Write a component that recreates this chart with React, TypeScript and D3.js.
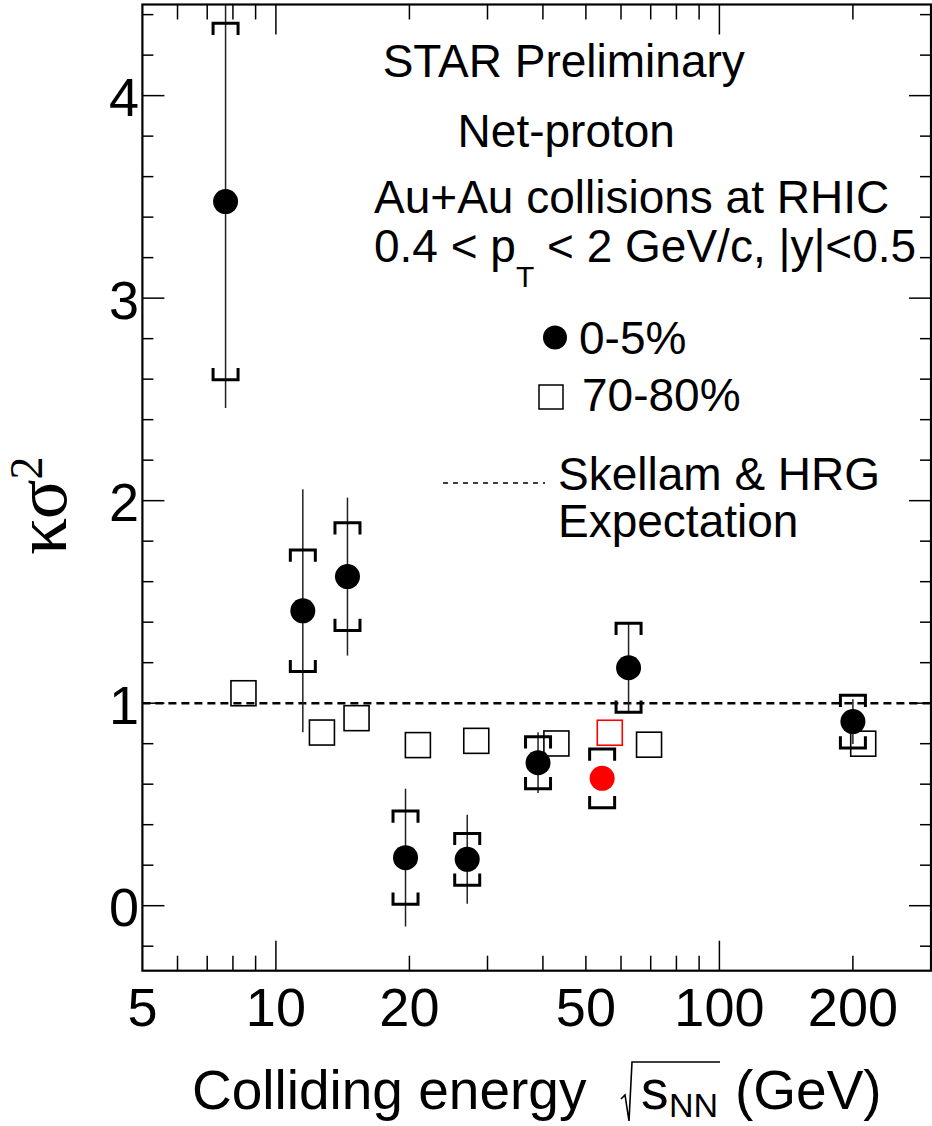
import React from "react";
import * as d3 from "d3";

// 0-5% central collisions (net-proton kappa*sigma^2)
const energies = [7.7, 11.5, 14.5, 19.6, 27, 39, 54.4, 62.4, 200];
const central = [3.477, 1.456, 1.625, 0.237, 0.229, 0.706, 0.629, 1.175, 0.909];
const statErr = [1.02, 0.6, 0.39, 0.34, 0.22, 0.15, 0.0, 0.225, 0.11];
const sysErr = [0.88, 0.3, 0.266, 0.23, 0.128, 0.128, 0.145, 0.22, 0.13];
const highlightedEnergy = 54.4;

// 70-80% peripheral collisions (plotted slightly offset in energy)
const peripheralX = [8.45, 12.7, 15.2, 20.9, 28.3, 42.9, 56.6, 69.4, 211];
const peripheralY = [1.049, 0.855, 0.926, 0.793, 0.814, 0.801, 0.854, 0.795, 0.8];
const highlightedPeripheral = 56.6;

const xTickLabels = [5, 10, 20, 50, 100, 200];
const yTickLabels = [0, 1, 2, 3, 4];
const expectation = 1;

const FONT = "'Liberation Sans', Arial, Helvetica, sans-serif";

export default function App() {
  const L = 142.4, R = 931, T = 4.5, B = 970.7;
  const x = d3.scaleLog().domain([5, 300]).range([L, R]);
  const y = d3.scaleLinear().domain([-0.321, 4.45]).range([B, T]);

  const xTicks = x.ticks().filter((v) => v > 5 && v < 300);
  const yTicks = d3.range(-1, 23).map((i) => ({ v: i * 0.2, major: i % 5 === 0 }));

  const capW = 12.5, capLeg = 11.7;

  return (
    <svg width={932} height={1126} style={{ position: "absolute", left: 0, top: 0, background: "#fff" }} fontFamily={FONT}>
      <defs>
        <clipPath id="frame">
          <rect x={L} y={T} width={R - L} height={B - T} />
        </clipPath>
      </defs>
      <rect x={0} y={0} width={932} height={1126} fill="#fff" />

      {/* x ticks bottom & top */}
      {xTicks.map((v, i) => {
        const major = Math.abs(Math.log10(v) - Math.round(Math.log10(v))) < 1e-9;
        const len = major ? 30 : 15;
        return (
          <g key={"xt" + i} stroke="#000" strokeWidth={1.5}>
            <line x1={x(v)} x2={x(v)} y1={B} y2={B - len} />
            <line x1={x(v)} x2={x(v)} y1={T} y2={T + len} />
          </g>
        );
      })}
      {/* y ticks left & right */}
      {yTicks.map((t, i) => {
        const len = t.major ? 22 : 11;
        return (
          <g key={"yt" + i} stroke="#000" strokeWidth={1.5}>
            <line x1={L} x2={L + len} y1={y(t.v)} y2={y(t.v)} />
            <line x1={R} x2={R - len} y1={y(t.v)} y2={y(t.v)} />
          </g>
        );
      })}

      {/* expectation line */}
      <line x1={L} x2={R} y1={y(expectation)} y2={y(expectation)} stroke="#000" strokeWidth={2.5} strokeDasharray="8,5" />

      <g clipPath="url(#frame)">
        {/* peripheral squares */}
        {peripheralX.map((e, i) => (
          <rect key={"p" + i} x={x(e) - 12.5} y={y(peripheralY[i]) - 12.5} width={25} height={25}
            fill="none" stroke={e === highlightedPeripheral ? "#f00" : "#000"} strokeWidth={1.6} />
        ))}
        {/* stat error bars */}
        {energies.map((e, i) => (
          statErr[i] > 0 ? (
            <line key={"s" + i} x1={x(e)} x2={x(e)} y1={y(central[i] + statErr[i])} y2={y(central[i] - statErr[i])}
              stroke="#222" strokeWidth={1.5} />
          ) : null
        ))}
        {/* systematic brackets */}
        {energies.map((e, i) => {
          const cx = x(e);
          const yt = y(central[i] + sysErr[i]);
          const yb = y(central[i] - sysErr[i]);
          return (
            <g key={"sys" + i} fill="none" stroke="#000" strokeWidth={3}>
              <path d={`M${cx - capW},${yt + capLeg}V${yt}H${cx + capW}V${yt + capLeg}`} />
              <path d={`M${cx - capW},${yb - capLeg}V${yb}H${cx + capW}V${yb - capLeg}`} />
            </g>
          );
        })}
        {/* central circles */}
        {energies.map((e, i) => (
          <circle key={"c" + i} cx={x(e)} cy={y(central[i])} r={12.5} fill={e === highlightedEnergy ? "#f00" : "#000"} />
        ))}
      </g>

      {/* frame */}
      <rect x={L} y={T} width={R - L} height={B - T} fill="none" stroke="#000" strokeWidth={2.2} />

      {/* tick labels */}
      {xTickLabels.map((v) => (
        <text key={"xl" + v} x={x(v)} y={1025.7} fontSize={54} textAnchor="middle">{v}</text>
      ))}
      {yTickLabels.map((v) => (
        <text key={"yl" + v} x={139} y={y(v) + 20.5} fontSize={54} textAnchor="end">{v}</text>
      ))}

      {/* x axis title */}
      <text x={192} y={1109} fontSize={55}>Colliding energy</text>
      <path d="M621,1099 L625,1095 L629,1121 L632,1062 L720,1062" fill="none" stroke="#000" strokeWidth={1.6} />
      <text x={641} y={1109} fontSize={55}>s</text>
      <text x={669} y={1117} fontSize={34}>NN</text>
      <text x={735} y={1109} fontSize={55}>(GeV)</text>

      {/* y axis title */}
      <text transform="translate(66,555) rotate(-90)" fontFamily="'Liberation Serif', 'DejaVu Serif', serif" fontSize={74}>
        κσ<tspan fontSize={46} dy={-24}>2</tspan>
      </text>

      {/* annotations */}
      <text x={382.7} y={77} fontSize={46}>STAR Preliminary</text>
      <text x={457.6} y={147} fontSize={46}>Net-proton</text>
      <text x={374} y={213} fontSize={46}>Au+Au collisions at RHIC</text>
      <text x={374} y={262} fontSize={46}>
        0.4 &lt; p<tspan fontSize={30} dy={25}>T</tspan><tspan dy={-25}> &lt; 2 GeV/c, |y|&lt;0.5</tspan>
      </text>

      {/* legend */}
      <circle cx={555} cy={337.5} r={12} fill="#000" />
      <text x={579} y={354} fontSize={46}>0-5%</text>
      <rect x={539} y={385} width={24} height={24} fill="none" stroke="#000" strokeWidth={1.5} />
      <text x={582} y={411} fontSize={46}>70-80%</text>
      <line x1={443} x2={545} y1={483} y2={483} stroke="#000" strokeWidth={1.6} strokeDasharray="5,5" />
      <text x={558} y={490} fontSize={46}>Skellam &amp; HRG</text>
      <text x={558} y={537} fontSize={46}>Expectation</text>
    </svg>
  );
}
